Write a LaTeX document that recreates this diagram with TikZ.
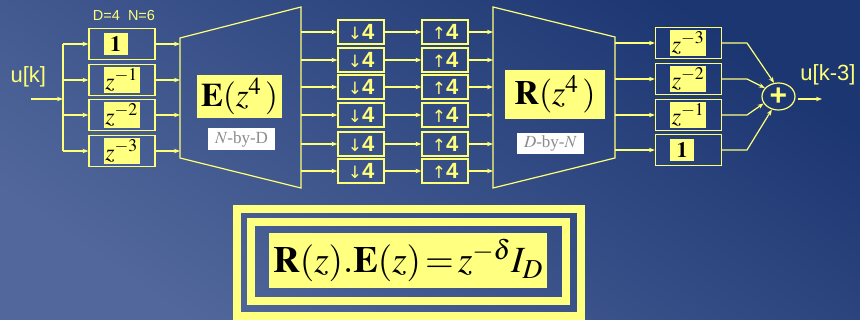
\documentclass[tikz,border=0pt]{standalone}
\usepackage{mathptmx}
\usepackage{fontspec}
\setmainfont{Liberation Serif}
\setsansfont{Liberation Sans}
\newfontfamily\arrowfont{DejaVu Sans}
\usetikzlibrary{arrows.meta,shapes.geometric}

\definecolor{lineyel}{RGB}{255,255,120}
\definecolor{labyel}{RGB}{255,255,128}
\definecolor{bgdark}{RGB}{28,54,114}
\definecolor{bglight}{RGB}{82,104,156}
\definecolor{labgray}{RGB}{140,140,140}

\tikzset{
  wire/.style={draw=lineyel, line width=1.2pt},
  arr/.style={wire, -{Stealth[length=6pt,width=4.5pt]}},
  dlybox/.style={draw=lineyel, line width=1.2pt, minimum width=66pt, minimum height=31pt, inner sep=0pt},
  ratebox/.style={draw=lineyel, line width=1.2pt, minimum width=46pt, minimum height=24pt, inner sep=0pt,
    text=lineyel, font=\sffamily\bfseries\fontsize{22}{22}\selectfont},
  tag/.style={fill=labyel, inner sep=0pt, minimum width=36pt, minimum height=26pt, font=\fontsize{24}{24}\selectfont},
  onetag/.style={tag, minimum width=24pt, minimum height=22pt, font=\fontsize{22}{22}\selectfont},
  sizetag/.style={fill=white, text=labgray, inner sep=0pt, minimum width=67pt, minimum height=22pt, font=\fontsize{17}{17}\selectfont},
  yeltext/.style={text=lineyel, font=\sffamily\fontsize{22}{22}\selectfont},
}
\newcommand{\dnarr}{\raisebox{0.5pt}{\arrowfont\mdseries\fontsize{17}{17}\selectfont↓}}
\newcommand{\uparr}{\raisebox{0.5pt}{\arrowfont\mdseries\fontsize{17}{17}\selectfont↑}}

\begin{document}
\begin{tikzpicture}[x=1pt, y=-1pt]
  \useasboundingbox (0,0) rectangle (860,320);
  \shade[shading=axis, top color=bgdark, bottom color=bglight, shading angle=-35] (0,0) rectangle (860,320);

  % input and labels
  \node[yeltext, anchor=west] (uin) at (7,77) {u[k]};
  \node[text=lineyel, font=\sffamily\fontsize{14.5}{14.5}\selectfont] (dn) at (124,16) {D=4\ \ N=6};
  \coordinate (src) at (31,99);
  \coordinate (split) at (63,99);
  \draw[arr] (src) -- (split);
  \coordinate (stop) at (63,44);
  \coordinate (sbot) at (63,151);
  \draw[wire] (stop) -- (sbot);

  % polyphase delays
  \node[dlybox] (d1) at (122,44) {};
  \node[onetag, anchor=west] (dt1) at ([xshift=15pt]d1.west) {$\mathbf{1}$};
  \foreach \i/\y/\lab in {2/80/{$z^{-1}$}, 3/115/{$z^{-2}$}, 4/151/{$z^{-3}$}} {
    \node[dlybox] (d\i) at (122,\y) {};
    \node[tag, anchor=west] (dt\i) at ([xshift=15pt]d\i.west) {\lab};
  }
  \foreach \i/\y in {1/44, 2/80, 3/115, 4/151} {
    \coordinate (sp\i) at (63,\y);
    \coordinate (ei\i) at (180,\y);
    \draw[arr] (sp\i) -- (d\i.west);
    \draw[arr] (d\i.east) -- (ei\i);
  }

  % E matrix
  \draw[wire] (180,38) -- (301,7) -- (301,188) -- (180,158) -- cycle;
  \node[fill=labyel, minimum width=85pt, minimum height=43pt, inner sep=0pt,
    font=\fontsize{33}{33}\selectfont] (emat) at (239.5,96.5) {$\mathbf{E}(z^4\,)$};
  \node[sizetag] (esize) at (241.5,139) {$N$-by-D};

  % decimators and expanders
  \foreach \i/\y in {1/32, 2/60, 3/87, 4/115, 5/144, 6/171} {
    \coordinate (eo\i) at (301,\y);
    \coordinate (ri\i) at (493,\y);
    \node[ratebox] (dw\i) at (361,\y) {\dnarr4};
    \node[ratebox] (up\i) at (445,\y) {\uparr4};
    \draw[arr] (eo\i) -- (dw\i.west);
    \draw[arr] (dw\i.east) -- (up\i.west);
    \draw[arr] (up\i.east) -- (ri\i);
  }

  % R matrix
  \draw[wire] (493,7) -- (615,37) -- (615,158) -- (493,188) -- cycle;
  \node[fill=labyel, minimum width=100pt, minimum height=49pt, inner sep=0pt,
    font=\fontsize{34}{34}\selectfont] (rmat) at (555,94.5) {$\mathbf{R}(z^4\,)$};
  \node[sizetag, minimum height=21pt] (rsize) at (550.5,143.5) {$D$-by-$N$};

  % output delays and sum
  \node[ellipse, draw=lineyel, line width=1.2pt, minimum width=33pt, minimum height=27pt, inner sep=0pt,
    text=lineyel, font=\sffamily\bfseries\fontsize{30}{30}\selectfont] (sum) at (778.5,96.5) {+};
  \foreach \i/\y/\lab in {1/43/{$z^{-3}$}, 2/79/{$z^{-2}$}, 3/115/{$z^{-1}$}} {
    \node[dlybox] (o\i) at (688.5,\y) {};
    \node[tag, anchor=west] (ot\i) at ([xshift=15pt]o\i.west) {\lab};
  }
  \node[dlybox] (o4) at (688.5,150) {};
  \node[onetag, anchor=west] (ot4) at ([xshift=15pt]o4.west) {$\mathbf{1}$};
  \foreach \i/\y/\ang in {1/43/108, 2/79/148, 3/115/205, 4/150/243} {
    \coordinate (ro\i) at (615,\y);
    \coordinate (bend\i) at (747,\y);
    \draw[arr] (ro\i) -- (o\i.west);
    \draw[arr] (o\i.east) -- (bend\i) -- (sum.\ang);
  }
  \coordinate (sout) at (798,99);
  \coordinate (out) at (822,99);
  \draw[arr] (sout) -- (out);
  \node[yeltext] (uout) at (828,75) {u[k-3]};

  % perfect reconstruction condition
  \draw[draw=labyel, line width=8pt] (237,209) rectangle (581,316);
  \draw[draw=labyel, line width=7.5pt] (251,222) rectangle (566,301);
  \node[fill=labyel, minimum width=278pt, minimum height=55pt, inner sep=0pt,
    font=\fontsize{37}{37}\selectfont] (prc) at (408,260.5) {$\mathbf{R}(z).\mathbf{E}(z)\!=\!z^{-\delta} I_D$};
\end{tikzpicture}
\end{document}
